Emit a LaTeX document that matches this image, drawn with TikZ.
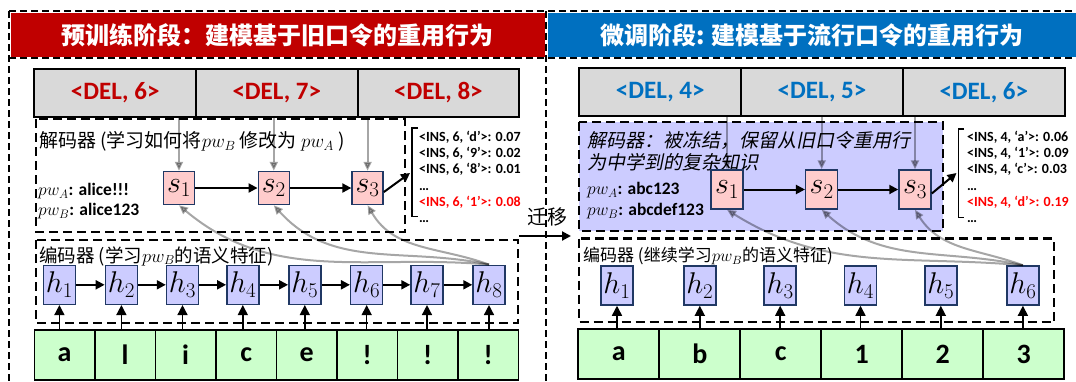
\documentclass[tikz,border=0pt]{standalone}
\usepackage{fix-cm}
\usepackage[no-math]{fontspec}
\setmainfont{Carlito}
\newfontfamily\cjk{Noto Sans CJK SC}
\newfontfamily\cjkit{Noto Sans CJK SC}[FakeSlant=0.2]
\usetikzlibrary{arrows.meta}
\definecolor{hdred}{HTML}{C00000}
\definecolor{hdblue}{HTML}{0070C0}
\definecolor{delgray}{HTML}{D9D9D9}
\definecolor{spink}{HTML}{FFCCCC}
\definecolor{hlav}{HTML}{CCCCFF}
\definecolor{cgreen}{HTML}{CCFFCC}
\definecolor{navy}{HTML}{203864}
\definecolor{listred}{HTML}{FF0000}

\begin{document}
\begin{tikzpicture}[x=1pt,y=-1pt,
 panel/.style={line width=2.5pt,dash pattern=on 7pt off 4pt},
 dashbox/.style={line width=2.5pt,dash pattern=on 9pt off 5pt},
 delbox/.style={draw,line width=2pt,fill=delgray,minimum height=48pt,inner sep=0pt,font=\bfseries\fontsize{25}{25}\selectfont},
 snode/.style={draw=navy,line width=1.5pt,fill=spink,inner sep=0pt,font=\fontsize{30}{30}\selectfont},
 hnode/.style={draw=navy,line width=1.5pt,fill=hlav,minimum width=32pt,minimum height=39pt,inner sep=0pt,font=\fontsize{30}{30}\selectfont},
 charcell/.style={draw,line width=1.8pt,fill=cgreen,minimum height=50pt,inner sep=0pt,font=\bfseries\fontsize{28}{28}\selectfont},
 arr/.style={line width=2pt,-{Triangle[length=9pt,width=9pt]}},
 uparr/.style={line width=1.5pt,-{Triangle[length=10pt,width=10pt]}},
 grayarr/.style={draw=black,opacity=0.35,line width=2pt,-{Triangle[length=9pt,width=8pt]}},
 brk/.style={line width=1.5pt},
 lst/.style={anchor=north west,align=left,inner sep=0pt,font=\bfseries\fontsize{14}{16.2}\selectfont},
 pwtext/.style={anchor=west,inner sep=0pt,font=\bfseries\fontsize{17.5}{17.5}\selectfont}]
 \useasboundingbox (0,0) rectangle (1076,381);
 \fill[hdred] (11,12.5) rectangle (544.5,56.5);
 \fill[hdblue] (547.5,12.5) rectangle (1076,56.5);
 \draw[panel] (9,11) -- (1076,11);
 \draw[panel] (9,58) -- (1076,58);
 \draw[panel] (9,11) -- (9,381);
 \draw[panel] (546,11) -- (546,381);
 \node[text=white,font=\cjk\bfseries\fontsize{24}{24}\selectfont] (Lhead) at (277.5,35) {预训练阶段：建模基于旧口令的重用行为};
 \node[text=white,font=\cjk\bfseries\fontsize{24}{24}\selectfont] (Rhead) at (812,35) {微调阶段: 建模基于流行口令的重用行为};
 \begin{scope}
  \node[delbox,text=hdred,minimum width=161.6pt] (Ldel1) at (115.2,93) {<DEL, 6>};
  \node[delbox,text=hdred,minimum width=161.6pt] (Ldel2) at (276.8,93) {<DEL, 7>};
  \node[delbox,text=hdred,minimum width=161.6pt] (Ldel3) at (438.4,93) {<DEL, 8>};
  \draw[dashbox] (36,119) rectangle (405,232);
  \draw[dashbox] (36,240) rectangle (518,323);
  \node[anchor=west,inner sep=0pt,font=\cjk\fontsize{19}{19}\selectfont] (Ldectxt) at (39,141) {解码器 (学习如何将$pw_B$ 修改为 $pw_A$ )};
  \node[pwtext] (LpwA) at (38,191) {$pw_A$: alice!!!};
  \node[pwtext] (LpwB) at (38,211) {$pw_B$: alice123};
  \node[snode,minimum width=31pt,minimum height=33pt] (Ls1) at (179,188) {$s_1$};
  \node[snode,minimum width=31pt,minimum height=33pt] (Ls2) at (273.8,188) {$s_2$};
  \node[snode,minimum width=31pt,minimum height=33pt] (Ls3) at (367.6,188) {$s_3$};
  \node[hnode] (Lh1) at (59.4,284.8) {$h_1$};
  \node[hnode] (Lh2) at (121.4,284.8) {$h_2$};
  \node[hnode] (Lh3) at (182.5,284.8) {$h_3$};
  \node[hnode] (Lh4) at (242.8,284.8) {$h_4$};
  \node[hnode] (Lh5) at (304.8,284.8) {$h_5$};
  \node[hnode] (Lh6) at (366.7,284.8) {$h_6$};
  \node[hnode] (Lh7) at (427,284.8) {$h_7$};
  \node[hnode] (Lh8) at (489,284.8) {$h_8$};
  \node[charcell,minimum width=60.5pt] (Lc1) at (64.65,354.8) {a};
  \node[charcell,minimum width=60.5pt] (Lc2) at (125.15,354.8) {l};
  \node[charcell,minimum width=60.5pt] (Lc3) at (185.65,354.8) {i};
  \node[charcell,minimum width=60.5pt] (Lc4) at (246.15,354.8) {c};
  \node[charcell,minimum width=60.5pt] (Lc5) at (306.65,354.8) {e};
  \node[charcell,minimum width=60.5pt] (Lc6) at (367.15,354.8) {!};
  \node[charcell,minimum width=60.5pt] (Lc7) at (427.65,354.8) {!};
  \node[charcell,minimum width=60.5pt] (Lc8) at (488.15,354.8) {!};
  \draw[grayarr] (Ls1 |- Ldel1.south) -- (Ls1.north);
  \draw[grayarr] (Ls2 |- Ldel2.south) -- (Ls2.north);
  \draw[grayarr] (Ls3 |- Ldel3.south) -- (Ls3.north);
  \draw[grayarr] (Lh8.north) to[out=175,in=-40] (Ls1.south);
  \draw[grayarr] (Lh8.north) to[out=168,in=-48] (Ls2.south);
  \draw[grayarr] (Lh8.north) to[out=160,in=-60] (Ls3.south);
  \node[anchor=west,inner sep=0pt,font=\cjk\fontsize{18.5}{18.5}\selectfont] (Lenctxt) at (39,256) {编码器 (学习$pw_B$的语义特征)};
  \draw[arr] (Ls1) -- (Ls2);
  \draw[arr] (Ls2) -- (Ls3);
  \draw[arr] (Lh1) -- (Lh2);
  \draw[arr] (Lh2) -- (Lh3);
  \draw[arr] (Lh3) -- (Lh4);
  \draw[arr] (Lh4) -- (Lh5);
  \draw[arr] (Lh5) -- (Lh6);
  \draw[arr] (Lh6) -- (Lh7);
  \draw[arr] (Lh7) -- (Lh8);
  \draw[uparr] (Lh1 |- Lc1.north) -- (Lh1.south);
  \draw[uparr] (Lh2 |- Lc2.north) -- (Lh2.south);
  \draw[uparr] (Lh3 |- Lc3.north) -- (Lh3.south);
  \draw[uparr] (Lh4 |- Lc4.north) -- (Lh4.south);
  \draw[uparr] (Lh5 |- Lc5.north) -- (Lh5.south);
  \draw[uparr] (Lh6 |- Lc6.north) -- (Lh6.south);
  \draw[uparr] (Lh7 |- Lc7.north) -- (Lh7.south);
  \draw[uparr] (Lh8 |- Lc8.north) -- (Lh8.south);
  \draw[brk] (418,128) -- (412,128) -- (412,216.5) -- (418,216.5);
  \coordinate (Lbrk) at (410,173);
  \draw[arr] ([yshift=-4pt]Ls3.east) -- (Lbrk);
  \node[lst] (Llist) at (419,131) {<INS, 6, ‘d’>: 0.07\\<INS, 6, ‘9’>: 0.02\\<INS, 6, ‘8’>: 0.01\\…\\\textcolor{listred}{<INS, 6, ‘1’>: 0.08}\\…};
 \end{scope}
 \node[font=\cjk\fontsize{20}{20}\selectfont] (trlab) at (547,217) {迁移};
 \coordinate (trA) at (519,236);
 \coordinate (trB) at (571,236);
 \draw[arr] (trA) -- (trB);
 \begin{scope}
  \node[delbox,text=hdblue,minimum width=161.8pt] (Rdel1) at (660.2,92.3) {<DEL, 4>};
  \node[delbox,text=hdblue,minimum width=161.8pt] (Rdel2) at (822,92.3) {<DEL, 5>};
  \node[delbox,text=hdblue,minimum width=161.8pt] (Rdel3) at (983.8,92.3) {<DEL, 6>};
  \draw[dashbox,fill=hlav] (579,122) rectangle (943,231);
  \draw[dashbox] (579,238.5) rectangle (1054,322);
  \node[anchor=north west,align=left,inner sep=0pt,font=\cjkit\fontsize{19}{22}\selectfont] (Rdectxt) at (587,131) {解码器：被冻结，保留从旧口令重用行\\为中学到的复杂知识};
  \node[pwtext] (RpwA) at (587,190) {$pw_A$: abc123};
  \node[pwtext] (RpwB) at (587,211) {$pw_B$: abcdef123};
  \node[snode,minimum width=32pt,minimum height=39pt] (Rs1) at (727,189.5) {$s_1$};
  \node[snode,minimum width=32pt,minimum height=39pt] (Rs2) at (821.7,189.5) {$s_2$};
  \node[snode,minimum width=32pt,minimum height=39pt] (Rs3) at (915,189.5) {$s_3$};
  \node[hnode] (Rh1) at (617,285.5) {$h_1$};
  \node[hnode] (Rh2) at (699.8,285.5) {$h_2$};
  \node[hnode] (Rh3) at (780.2,285.5) {$h_3$};
  \node[hnode] (Rh4) at (860.5,285.5) {$h_4$};
  \node[hnode] (Rh5) at (940.8,285.5) {$h_5$};
  \node[hnode] (Rh6) at (1022.9,285.5) {$h_6$};
  \node[charcell,minimum width=81pt] (Rc1) at (618.8,354) {a};
  \node[charcell,minimum width=81pt] (Rc2) at (699.8,354) {b};
  \node[charcell,minimum width=81pt] (Rc3) at (780.8,354) {c};
  \node[charcell,minimum width=81pt] (Rc4) at (861.8,354) {1};
  \node[charcell,minimum width=81pt] (Rc5) at (942.8,354) {2};
  \node[charcell,minimum width=81pt] (Rc6) at (1023.8,354) {3};
  \draw[grayarr] (Rs1 |- Rdel1.south) -- (Rs1.north);
  \draw[grayarr] (Rs2 |- Rdel2.south) -- (Rs2.north);
  \draw[grayarr] (Rs3 |- Rdel3.south) -- (Rs3.north);
  \draw[grayarr] (Rh6.north) to[out=175,in=-32] (Rs1.south);
  \draw[grayarr] (Rh6.north) to[out=168,in=-42] (Rs2.south);
  \draw[grayarr] (Rh6.north) to[out=160,in=-58] (Rs3.south);
  \node[anchor=west,inner sep=0pt,font=\cjk\fontsize{17}{17}\selectfont] (Renctxt) at (583,256) {编码器 (继续学习$pw_B$的语义特征)};
  \draw[arr] (Rs1) -- (Rs2);
  \draw[arr] (Rs2) -- (Rs3);
  \draw[uparr] (Rh1 |- Rc1.north) -- (Rh1.south);
  \draw[uparr] (Rh2 |- Rc2.north) -- (Rh2.south);
  \draw[uparr] (Rh3 |- Rc3.north) -- (Rh3.south);
  \draw[uparr] (Rh4 |- Rc4.north) -- (Rh4.south);
  \draw[uparr] (Rh5 |- Rc5.north) -- (Rh5.south);
  \draw[uparr] (Rh6 |- Rc6.north) -- (Rh6.south);
  \draw[brk] (964,128.8) -- (958.5,128.8) -- (958.5,217.5) -- (964,217.5);
  \coordinate (Rbrk) at (956.5,173);
  \draw[arr] ([yshift=-4pt]Rs3.east) -- (Rbrk);
  \node[lst] (Rlist) at (967,131) {<INS, 4, ‘a’>: 0.06\\<INS, 4, ‘1’>: 0.09\\<INS, 4, ‘c’>: 0.03\\…\\\textcolor{listred}{<INS, 4, ‘d’>: 0.19}\\…};
 \end{scope}
\end{tikzpicture}
\end{document}
